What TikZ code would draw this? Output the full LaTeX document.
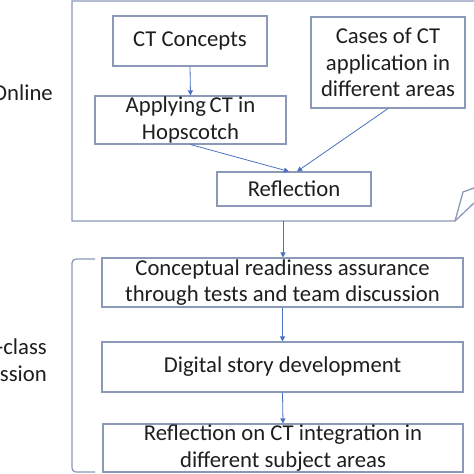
\documentclass[tikz,border=0pt]{standalone}
\usepackage{fontspec}
\setmainfont{Carlito}
\usetikzlibrary{arrows.meta,calc}
\definecolor{boxc}{HTML}{8C98B8}
\definecolor{arrc}{HTML}{4A72C0}
\definecolor{txtc}{HTML}{1E1E1E}
\begin{document}
\begin{tikzpicture}[x=1pt,y=-1pt,
  stepbox/.style={draw=boxc,line width=1.1pt,align=center,inner sep=0pt,
    text=txtc,font=\fontsize{22.7}{26.5}\selectfont},
  lbl/.style={text=txtc,inner sep=0pt,font=\fontsize{22.7}{26.5}\selectfont},
  arr/.style={draw=arrc,line width=0.8pt,-{Triangle[width=5pt,length=5pt]}},
  frame/.style={draw=boxc,line width=1.3pt}]
\useasboundingbox (0,0) rectangle (474,474);
% outer online frame
\draw[frame] (474,1) -- (72,1) -- (72,221) -- (455,221) -- (463,192) -- (474,188);
\draw[frame] (455,221) -- (474,203);
\coordinate (ob) at (283,221);
% brace
\draw[frame,rounded corners=4pt] (95,259) -- (72,259) -- (72,472) -- (95,472);
% boxes
\node[stepbox,minimum width=154,minimum height=50] (cc) at (190,41) {CT Concepts};
\node[stepbox,minimum width=191,minimum height=48] (ap) at (190.5,120) {Applying\,CT in\\Hopscotch};
\node[stepbox,minimum width=154,minimum height=91] (cs) at (388,62.5) {Cases of CT\\application in\\different areas};
\node[stepbox,minimum width=154,minimum height=34] (rf) at (294,189) {Reflection};
\node[stepbox,minimum width=361,minimum height=49] (cr) at (282.5,282.5) {Conceptual readiness assurance\\through tests and team discussion};
\node[stepbox,minimum width=361,minimum height=50] (ds) at (282.5,367) {Digital story development};
\node[stepbox,minimum width=360,minimum height=48] (ri) at (283,448) {Reflection on CT integration in\\different subject areas};
% labels
\node[lbl,anchor=east] (on) at (53,93) {Online};
\node[lbl,anchor=east,align=right] (ic) at (47,360) {In-class\\discussion};
% arrows
\draw[arr] (cc.south) -- (ap.north);
\draw[arr] (ap.south) -- ([xshift=-5pt]rf.north);
\draw[arr] (cs.south) -- ([xshift=3pt]rf.north);
\draw[arr] (ob) -- (ob |- cr.north);
\draw[arr] (cr.south) -- (ds.north);
\draw[arr] (ds.south) -- (ri.north);
\end{tikzpicture}
\end{document}
